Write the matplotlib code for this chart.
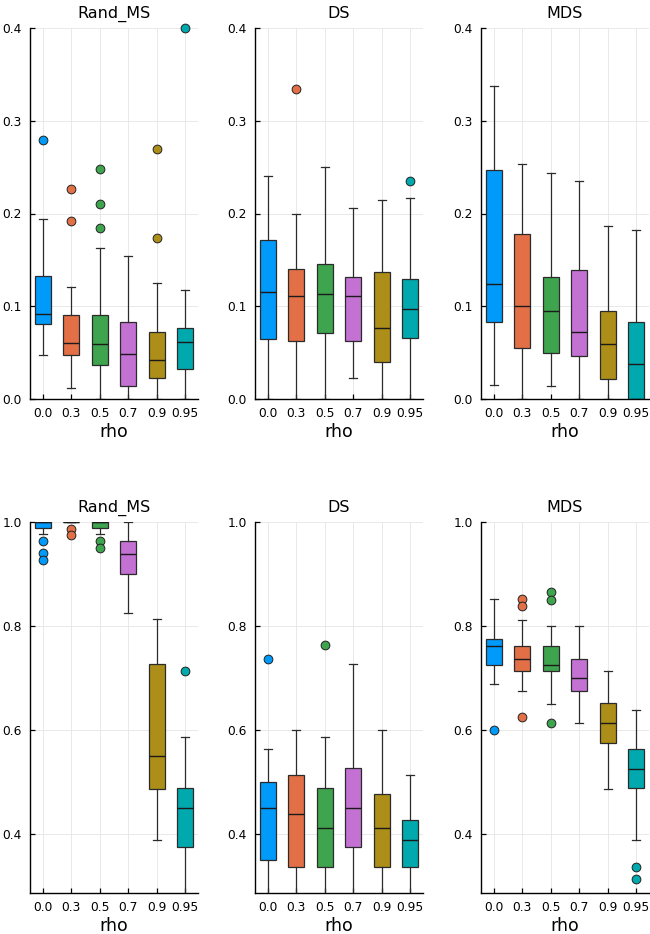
import matplotlib
matplotlib.use("Agg")
import matplotlib.pyplot as plt

rho_labels = ["0.0", "0.3", "0.5", "0.7", "0.9", "0.95"]
colors = ["#009AFA", "#E36F47", "#3EA44E", "#C371D2", "#AC8E18", "#00A9AD"]
titles = ["Rand_MS", "DS", "MDS"]

# top row: whislo, q1, med, q3, whishi, outliers
rand_top_lo = [0.047, 0.012, 0.0, 0.0, 0.0, 0.0]
rand_top_q1 = [0.081, 0.047, 0.037, 0.0137, 0.023, 0.032]
rand_top_med = [0.092, 0.060, 0.059, 0.0485, 0.042, 0.061]
rand_top_q3 = [0.133, 0.091, 0.091, 0.083, 0.072, 0.077]
rand_top_hi = [0.194, 0.121, 0.163, 0.154, 0.125, 0.118]
rand_top_out = [[0.279], [0.226, 0.192], [0.248, 0.210, 0.184], [], [0.270, 0.174], [0.400]]

ds_top_lo = [0.0, 0.0, 0.0, 0.023, 0.0, 0.0]
ds_top_q1 = [0.065, 0.062, 0.0715, 0.062, 0.040, 0.066]
ds_top_med = [0.115, 0.111, 0.1136, 0.111, 0.077, 0.097]
ds_top_q3 = [0.171, 0.140, 0.146, 0.132, 0.137, 0.129]
ds_top_hi = [0.240, 0.200, 0.250, 0.206, 0.2146, 0.217]
ds_top_out = [[], [0.334], [], [], [], [0.235]]

mds_top_lo = [0.015, 0.0, 0.014, 0.0, 0.0, 0.0]
mds_top_q1 = [0.083, 0.055, 0.050, 0.046, 0.0216, 0.0]
mds_top_med = [0.124, 0.100, 0.095, 0.072, 0.059, 0.038]
mds_top_q3 = [0.247, 0.178, 0.132, 0.139, 0.0945, 0.083]
mds_top_hi = [0.337, 0.253, 0.244, 0.235, 0.187, 0.182]
mds_top_out = [[], [], [], [], [], []]

# bottom row
rand_bot_lo = [0.976, 1.0, 0.976, 0.825, 0.388, 0.25]
rand_bot_q1 = [0.988, 1.0, 0.988, 0.900, 0.487, 0.375]
rand_bot_med = [1.0, 1.0, 1.0, 0.937, 0.550, 0.449]
rand_bot_q3 = [1.0, 1.0, 1.0, 0.963, 0.726, 0.488]
rand_bot_hi = [1.0, 1.0, 1.0, 1.0, 0.813, 0.587]
rand_bot_out = [[0.963, 0.939, 0.926], [0.986, 0.974], [0.963, 0.950], [], [], [0.713]]

ds_bot_lo = [0.25, 0.25, 0.25, 0.25, 0.25, 0.25]
ds_bot_q1 = [0.350, 0.337, 0.337, 0.375, 0.337, 0.337]
ds_bot_med = [0.449, 0.438, 0.412, 0.449, 0.412, 0.388]
ds_bot_q3 = [0.500, 0.513, 0.488, 0.526, 0.476, 0.426]
ds_bot_hi = [0.563, 0.600, 0.587, 0.726, 0.600, 0.513]
ds_bot_out = [[0.737], [], [0.763], [], [], []]

mds_bot_lo = [0.6875, 0.675, 0.650, 0.6125, 0.487, 0.388]
mds_bot_q1 = [0.725, 0.7125, 0.7125, 0.675, 0.575, 0.488]
mds_bot_med = [0.762, 0.737, 0.725, 0.700, 0.6125, 0.525]
mds_bot_q3 = [0.775, 0.762, 0.762, 0.737, 0.651, 0.563]
mds_bot_hi = [0.851, 0.812, 0.800, 0.800, 0.7125, 0.638]
mds_bot_out = [[0.600], [0.851, 0.838, 0.625], [0.864, 0.850, 0.613], [], [], [0.337, 0.313]]

panels = [
    (rand_top_lo, rand_top_q1, rand_top_med, rand_top_q3, rand_top_hi, rand_top_out),
    (ds_top_lo, ds_top_q1, ds_top_med, ds_top_q3, ds_top_hi, ds_top_out),
    (mds_top_lo, mds_top_q1, mds_top_med, mds_top_q3, mds_top_hi, mds_top_out),
    (rand_bot_lo, rand_bot_q1, rand_bot_med, rand_bot_q3, rand_bot_hi, rand_bot_out),
    (ds_bot_lo, ds_bot_q1, ds_bot_med, ds_bot_q3, ds_bot_hi, ds_bot_out),
    (mds_bot_lo, mds_bot_q1, mds_bot_med, mds_bot_q3, mds_bot_hi, mds_bot_out),
]

fig = plt.figure(figsize=(6.5, 9.34), dpi=100)
lefts = [30 / 650, 255 / 650, 481 / 650]
bottoms = [1 - 399 / 934, 1 - 892.7 / 934]
w = 168 / 650
h = 371 / 934

for i, (lo, q1, med, q3, hi, out) in enumerate(panels):
    row, col = divmod(i, 3)
    ax = fig.add_axes([lefts[col], bottoms[row], w, h])
    ax.grid(True, color="#e5e5e5", lw=0.6, zorder=0)
    ax.set_axisbelow(True)
    for j in range(6):
        stats = [dict(whislo=lo[j], q1=q1[j], med=med[j], q3=q3[j],
                      whishi=hi[j], fliers=out[j])]
        ax.bxp(stats, positions=[j + 1], widths=0.56, patch_artist=True,
               boxprops=dict(facecolor=colors[j], edgecolor="#2b2b2b", lw=0.9),
               medianprops=dict(color="#1a1a1a", lw=1.0),
               whiskerprops=dict(color="#2b2b2b", lw=0.9),
               capprops=dict(color="#2b2b2b", lw=0.9),
               capwidths=0.28,
               flierprops=dict(marker="o", markerfacecolor=colors[j],
                               markeredgecolor="#222222", markersize=6.3,
                               markeredgewidth=0.7, clip_on=False))
    ax.set_xlim(0.55, 6.45)
    ax.set_xticks(range(1, 7))
    ax.set_xticklabels(rho_labels)
    if row == 0:
        ax.set_ylim(0, 0.4)
        ax.set_yticks([0.0, 0.1, 0.2, 0.3, 0.4])
        ax.set_yticklabels(["0.0", "0.1", "0.2", "0.3", "0.4"])
    else:
        ax.set_ylim(0.287, 1.0)
        ax.set_yticks([0.4, 0.6, 0.8, 1.0])
        ax.set_yticklabels(["0.4", "0.6", "0.8", "1.0"])
    for s in ["top", "right"]:
        ax.spines[s].set_visible(False)
    ax.spines["left"].set_linewidth(1.0)
    ax.spines["bottom"].set_linewidth(1.0)
    ax.tick_params(direction="in", length=3.5, width=0.9, labelsize=8.8, pad=6)
    ax.set_title(titles[col], fontsize=11.5, pad=7)
    ax.set_xlabel("rho", fontsize=12.5, labelpad=2)

fig.savefig("out.png", dpi=100)
